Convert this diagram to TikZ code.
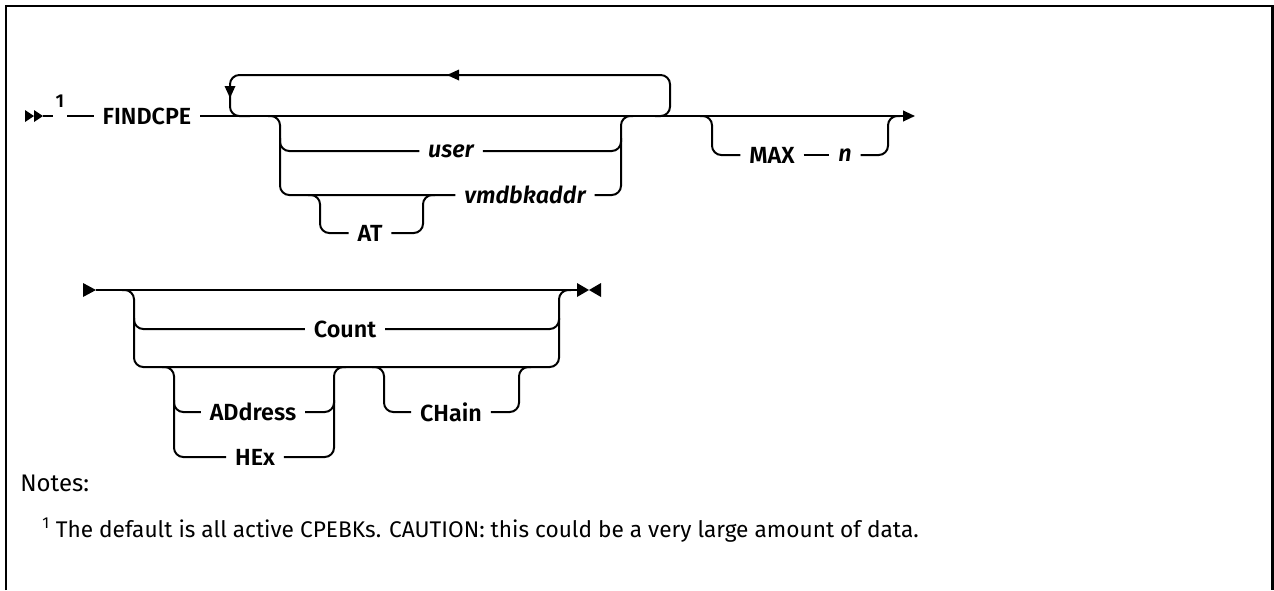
\documentclass[tikz,border=0pt]{standalone}
\usepackage{fontspec}
\setmainfont{Fira Sans}[BoldFont={Fira Sans SemiBold},BoldItalicFont={Fira Sans SemiBold Italic}]
\usetikzlibrary{arrows.meta}
\begin{document}
\begin{tikzpicture}[x=0.75pt,y=-0.75pt,
  rail/.style={line width=1.5pt, rounded corners=7pt},
  kw/.style={font=\fontsize{17.5}{20}\selectfont\bfseries, inner xsep=6.5pt, inner ysep=2pt},
  var/.style={font=\fontsize{17.5}{20}\selectfont\bfseries\itshape, inner xsep=6.5pt, inner ysep=2pt},
  note/.style={anchor=west, font=\fontsize{17}{20}\selectfont, inner sep=0pt}]
\useasboundingbox (0,0) rectangle (1274,590);
\draw[line width=1.8pt] (6,590) -- (6,6) -- (1272.5,6) -- (1272.5,590);

% ---- row 1 ----
\fill (25,110) -- (34,116) -- (25,122) -- cycle;
\fill (34,110) -- (43,116) -- (34,122) -- cycle;
\coordinate (s1) at (43,116);
\node[font=\fontsize{14}{16}\selectfont\bfseries, inner xsep=2pt] (fn1) at (60,101) {1};
\node[kw] (find) at (147,116) {FINDCPE};
\coordinate (e1) at (915,116);
\draw[rail] (s1) -- (fn1.west |- s1);
\draw[rail] (fn1.east |- s1) -- (find.west);
\draw[rail,-{Triangle[length=9pt,width=8pt]}] (find.east) -- (e1);

% repeat loop
\draw[rail] (655,116) -| (670,75) -| (230,116) -- (250,116);
\fill (447,75) -- (459,69.5) -- (459,80.5) -- cycle;
\fill (230,98) -- (224.5,86) -- (235.5,86) -- cycle;

% user / vmdbkaddr
\node[var] (user) at (451,151) {user};
\node[var] (vmdb) at (525,195) {vmdbkaddr};
\node[kw] (at) at (370,233) {AT};
\draw[rail] (268,116) -| (280,195) -- (vmdb.west);
\draw[rail] (280,138) |- (user.west);
\draw[rail] (user.east) -| (621,138);
\draw[rail] (vmdb.east) -| (621,116) -- (633,116);
\draw[rail] (308,195) -| (320,233) -- (at.west);
\draw[rail] (at.east) -| (423,195) -- (435,195);

% MAX n
\node[kw] (max) at (772,155) {MAX};
\node[var] (n) at (845,155) {n};
\draw[rail] (700,116) -| (712,155) -- (max.west);
\draw[rail] (max.east) -- (n.west);
\draw[rail] (n.east) -| (888,116) -- (900,116);

% ---- row 2 ----
\fill (83,283) -- (96,290) -- (83,297) -- cycle;
\coordinate (s2) at (96,290);
\coordinate (e2) at (577,290);
\draw[rail] (s2) -- (e2);
\fill (577,283) -- (589,290) -- (577,297) -- cycle;
\fill (601,283) -- (589,290) -- (601,297) -- cycle;

\node[kw] (count) at (345,329) {Count};
\draw[rail] (122,290) -| (134,367) -| (559,290) -- (571,290);
\draw[rail] (134,318) |- (count.west);
\draw[rail] (count.east) -| (559,318);

\node[kw] (addr) at (253,412) {ADdress};
\node[kw] (hex) at (255,457) {HEx};
\draw[rail] (162,367) -| (174,457) -- (hex.west);
\draw[rail] (174,400) |- (addr.west);
\draw[rail] (addr.east) -| (334,400);
\draw[rail] (hex.east) -| (334,367) -- (346,367);

\node[kw] (chain) at (451,412) {CHain};
\draw[rail] (372,367) -| (384,412) -- (chain.west);
\draw[rail] (chain.east) -| (519,367) -- (531,367);

% ---- notes ----
\node[note, font=\fontsize{18}{21}\selectfont] (notes) at (20,483) {Notes:};
\node[note] (note1) at (42,530) {\textsuperscript{1} The default is all active CPEBKs. CAUTION: this could be a very large amount of data.};
\end{tikzpicture}
\end{document}
